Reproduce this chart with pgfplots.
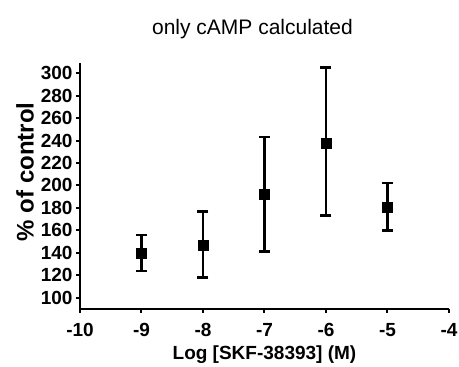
\documentclass[border=0pt]{standalone}
\usepackage{pgfplots}
\pgfplotsset{compat=1.18}
\usepackage{fontspec}
\setmainfont{Liberation Sans}
\begin{document}
\begin{tikzpicture}[x=1pt,y=1pt]
\useasboundingbox (-80,-58) rectangle (379,309);
\begin{axis}[
  anchor=south west, at={(0,0)},
  scale only axis, width=369pt, height=246pt,
  xmin=-10, xmax=-4, ymin=90, ymax=309,
  axis lines=left, axis line style={-, line width=2pt},
  xtick={-10,-9,...,-4}, ytick={100,120,...,300},
  tick style={line width=2pt, black}, tick align=outside, major tick length=4pt,
  ticklabel style={font=\fontsize{19}{22}\selectfont\bfseries},
  xticklabel style={yshift=-7pt},
  /pgf/number format/assume math mode=true,
  xlabel={Log [SKF-38393] (M)}, ylabel={\% of control},
  xlabel style={font=\fontsize{19}{22}\selectfont\bfseries, yshift=-2pt},
  ylabel style={font=\fontsize{24}{28}\selectfont\bfseries, at={(ticklabel cs:0.557)}},
  title={only cAMP calculated}, title style={font=\fontsize{21}{24}\selectfont, yshift=15pt, xshift=-12pt},
  clip=false,
  errbar/.style={black, line width=2.6pt, mark=-, mark size=5.5pt, mark options={line width=2.6pt}},
]
\addplot[errbar] coordinates {(-9,124) (-9,156)};
\addplot[errbar] coordinates {(-8,118) (-8,177)};
\addplot[errbar] coordinates {(-7,141) (-7,243)};
\addplot[errbar] coordinates {(-6,173) (-6,305)};
\addplot[errbar] coordinates {(-5,160) (-5,202)};
\addplot[only marks, mark=square*, mark size=5pt, black] table {
x y
-9 140
-8 147
-7 192
-6 238
-5 181
};
\end{axis}
\end{tikzpicture}
\end{document}
